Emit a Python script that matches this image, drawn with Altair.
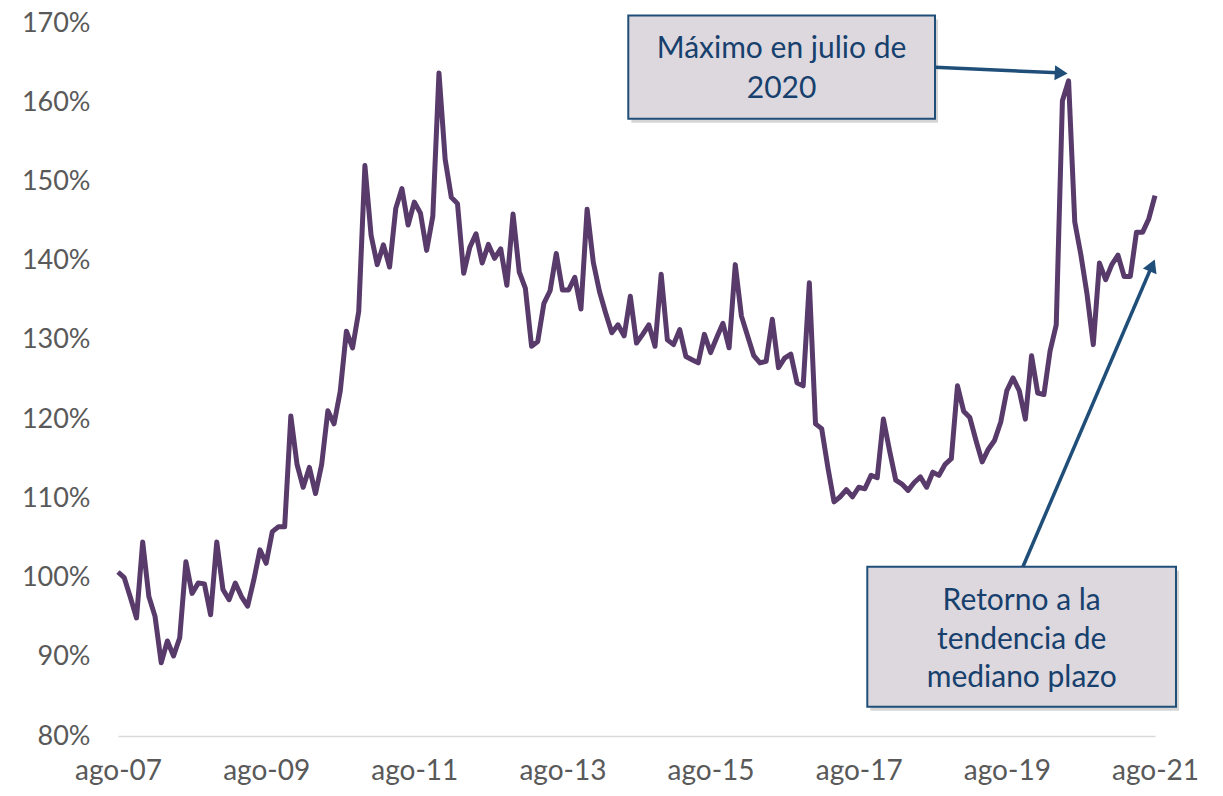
import altair as alt
import pandas as pd

# Monthly series, ago-07 .. ago-21 (percent)
values_pct = [
    100.7, 100.0, 97.5, 94.9, 104.5, 97.6, 95.1, 89.25, 92.0, 90.1, 92.4, 102.0, 98.0, 99.3,
    99.2, 95.3, 104.5, 98.5, 97.2, 99.3, 97.6, 96.4, 99.7, 103.5, 101.8, 105.8, 106.4, 106.4,
    120.4, 114.3, 111.4, 113.9, 110.6, 114.3, 121.05, 119.4, 123.5, 131.1, 129.0, 133.6,
    152.0, 143.2, 139.5, 142.0, 139.2, 146.6, 149.1, 144.5, 147.4, 146.0, 141.3, 145.6,
    163.7, 152.8, 148.0, 147.2, 138.4, 141.7, 143.4, 139.7, 142.05, 140.3, 141.5, 136.9,
    145.9, 138.6, 136.5, 129.2, 129.8, 134.6, 136.2, 140.9, 136.3, 136.3, 137.9, 133.9,
    146.5, 139.8, 136.1,
    133.4, 130.9, 131.9, 130.5, 135.5, 129.6, 130.7, 131.9, 129.2, 138.3, 130.0, 129.4,
    131.3, 127.9, 127.5, 127.1, 130.7, 128.4, 130.3, 132.1, 129.0, 139.5,
    133.0, 130.5, 128.0, 127.1, 127.3, 132.6, 126.5, 127.7, 128.2, 124.6, 124.2, 137.2,
    119.4, 118.8, 113.9, 109.55, 110.2, 111.1, 110.2, 111.4, 111.2, 112.9, 112.6,
    120.0, 116.0, 112.3, 111.8, 111.0, 112.0, 112.7, 111.4, 113.3, 112.9, 114.3, 115.0,
    124.2, 121.0, 120.2, 117.3, 114.6, 116.2, 117.3, 119.6, 123.6, 125.2, 123.6, 120.0,
    128.0, 123.3, 123.1, 128.6,
    131.9, 160.2, 162.7, 144.9, 140.7, 135.7, 129.4, 139.7, 137.6, 139.5, 140.7, 138.0,
    138.0, 143.6, 143.6, 145.3, 148.2,
]

tick_months = [0, 24, 48, 72, 96, 120, 144, 168]
tick_labels = ["ago-07", "ago-09", "ago-11", "ago-13", "ago-15", "ago-17", "ago-19", "ago-21"]
y_ticks = [0.8, 0.9, 1.0, 1.1, 1.2, 1.3, 1.4, 1.5, 1.6, 1.7]

# Annotation boxes (in data units: month index, ratio)
box_m = [82.67, 121.39]
box_m2 = [132.36, 171.40]
box_v = [1.7095, 1.0137]
box_v2 = [1.5790, 0.8368]

text_lines = ["Máximo en julio de", "2020", "Retorno a la", "tendencia de", "mediano plazo"]
text_m = [107.5, 107.5, 146.4, 146.4, 146.4]
text_v = [1.6670, 1.6165, 0.9709, 0.9206, 0.8729]

arrow_m = [132.36, 146.6]
arrow_v = [1.6440, 1.0137]
arrow_m2 = [152.3, 167.35]
arrow_v2 = [1.6372, 1.3908]
head_m = [152.8, 167.55]
head_v = [1.6368, 1.394]
head_angle = [93, 23]

FONT = "Lato"
LINE_COLOR = "#583a6b"
NAVY = "#1f4e79"

df = pd.DataFrame({"m": list(range(len(values_pct))), "v": [v / 100 for v in values_pct]})
boxes = pd.DataFrame({"m": box_m, "m2": box_m2, "v": box_v, "v2": box_v2})
shadow = pd.DataFrame({
    "m": [a + 0.5 for a in box_m], "m2": [a + 0.5 for a in box_m2],
    "v": [a - 0.005 for a in box_v], "v2": [a - 0.005 for a in box_v2],
})
texts = pd.DataFrame({"m": text_m, "v": text_v, "t": text_lines})
arrows = pd.DataFrame({"m": arrow_m, "v": arrow_v, "m2": arrow_m2, "v2": arrow_v2})
heads = pd.DataFrame({"m": head_m, "v": head_v, "a": head_angle})

label_expr = "[" + ",".join("'%s'" % l for l in tick_labels) + "][round(datum.value/24)]"

xs = alt.Scale(domain=[0, 168], nice=False, zero=False)
ys = alt.Scale(domain=[0.8, 1.7], nice=False, zero=False)
xaxis = alt.Axis(values=tick_months, labelExpr=label_expr, grid=False, ticks=False,
                 domain=True, domainColor="#d9d9d9", domainWidth=1.5, labelPadding=21,
                 labelFontSize=28, labelFont=FONT, labelColor="#595959", title=None,
                 labelFlush=False)
yaxis = alt.Axis(values=y_ticks, format=".0%", grid=False, ticks=False, domain=False,
                 labelPadding=28, labelFontSize=27, labelFont=FONT, labelColor="#595959",
                 title=None)

X = alt.X("m:Q", scale=xs, axis=xaxis)
Y = alt.Y("v:Q", scale=ys, axis=yaxis)

line = alt.Chart(df).mark_line(color=LINE_COLOR, strokeWidth=5, strokeJoin="round").encode(x=X, y=Y)

shadow_l = alt.Chart(shadow).mark_rect(color="#888888", opacity=0.35).encode(
    x=X, x2="m2:Q", y=Y, y2="v2:Q")
box_l = alt.Chart(boxes).mark_rect(fill="#dcd8de", stroke=NAVY, strokeWidth=2).encode(
    x=X, x2="m2:Q", y=Y, y2="v2:Q")
text_l = alt.Chart(texts).mark_text(font=FONT, fontSize=30, color="#17406d",
                                    align="center", baseline="middle").encode(x=X, y=Y, text="t:N")
arrow_l = alt.Chart(arrows).mark_rule(color=NAVY, strokeWidth=3.5).encode(
    x=X, y=Y, x2="m2:Q", y2="v2:Q")
head_l = alt.Chart(heads).mark_point(shape="triangle-up", filled=True, size=220, color=NAVY,
                                     opacity=1).encode(x=X, y=Y, angle=alt.Angle("a:Q", scale=None))

chart = alt.layer(line, shadow_l, box_l, text_l, arrow_l, head_l).properties(
    width=1037, height=713,
    autosize=alt.AutoSizeParams(type="none"),
    padding={"left": 110, "top": 15, "right": 60, "bottom": 56},
).configure_view(stroke=None)

chart.save("out.html", embed_options={"renderer": "svg", "actions": False})
